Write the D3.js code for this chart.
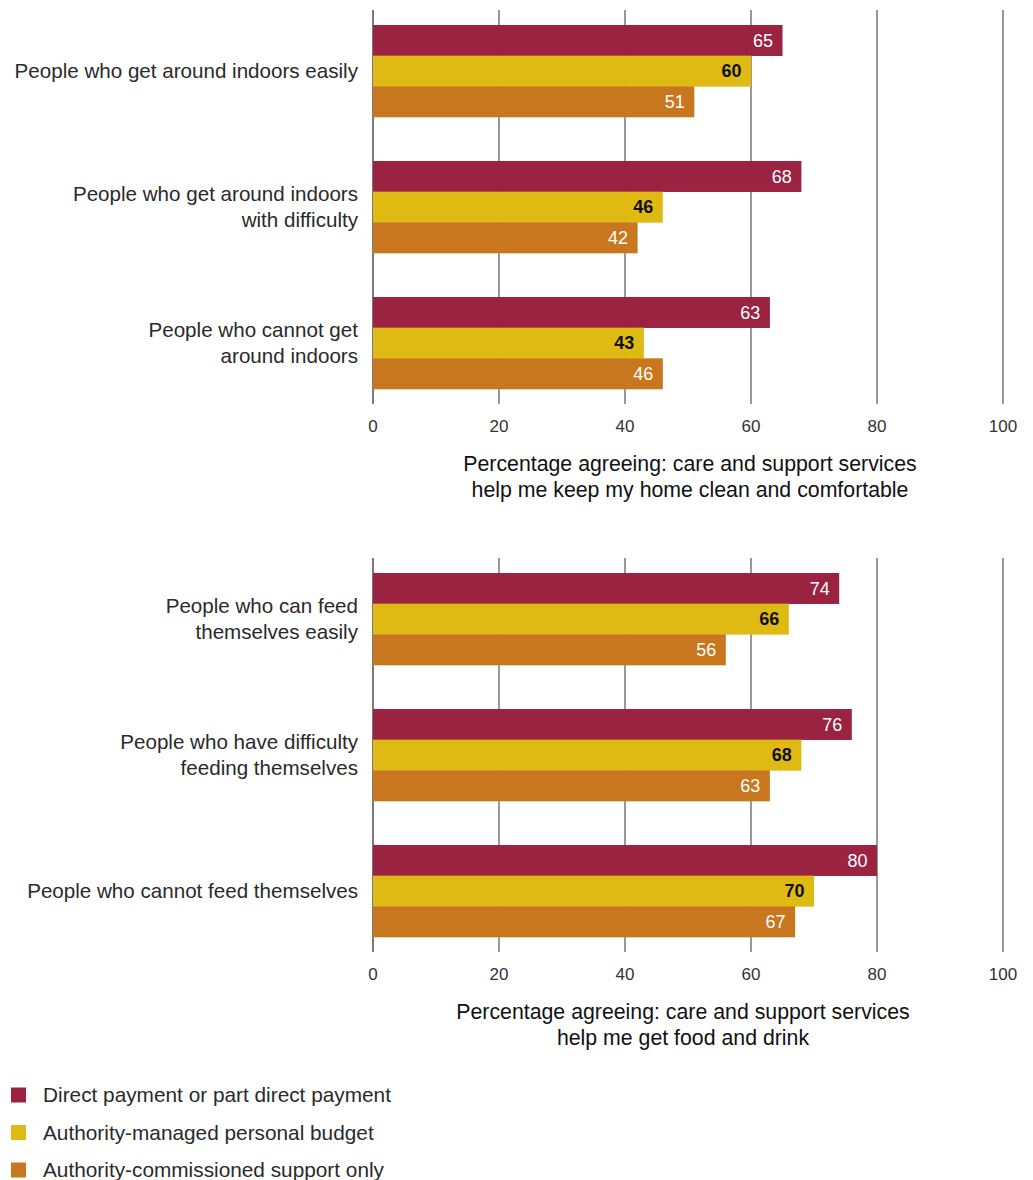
<!DOCTYPE html>
<html>
<head>
<meta charset="utf-8">
<script src="https://cdn.jsdelivr.net/npm/d3@7"></script>
<style>
  html, body { margin: 0; padding: 0; background: #fff; }
  svg { display: block; font-family: "Liberation Sans", Arial, Helvetica, sans-serif; }
</style>
</head>
<body>
<svg id="chart" width="1033" height="1180"></svg>
<script>
// Series shown in both panels, in bar order within each group
const seriesNames = [
  "Direct payment or part direct payment",
  "Authority-managed personal budget",
  "Authority-commissioned support only"
];

// Panel 1: getting around indoors
const mobilityCategories = [
  ["People who get around indoors easily"],
  ["People who get around indoors", "with difficulty"],
  ["People who cannot get", "around indoors"]
];
const mobilityDirect = [65, 68, 63];
const mobilityManaged = [60, 46, 43];
const mobilityCommissioned = [51, 42, 46];
const mobilityTitle = [
  "Percentage agreeing: care and support services",
  "help me keep my home clean and comfortable"
];

// Panel 2: feeding
const feedingCategories = [
  ["People who can feed", "themselves easily"],
  ["People who have difficulty", "feeding themselves"],
  ["People who cannot feed themselves"]
];
const feedingDirect = [74, 76, 80];
const feedingManaged = [66, 68, 70];
const feedingCommissioned = [56, 63, 67];
const feedingTitle = [
  "Percentage agreeing: care and support services",
  "help me get food and drink"
];

const xTicks = [0, 20, 40, 60, 80, 100];

const seriesColors = ["#9b2240", "#dfba13", "#c8771e"];
const labelColors = ["#ffffff", "#111111", "#ffffff"];
const labelWeights = ["normal", "bold", "normal"];

const svg = d3.select("#chart");

const x = d3.scaleLinear().domain([0, 100]).range([373, 1003]);

function drawPanel(offsetY, categories, seriesValues, title, titleX) {
  const g = svg.append("g").attr("transform", `translate(0,${offsetY})`);

  const y = d3.scaleBand()
    .domain(d3.range(categories.length))
    .range([3, 411])
    .paddingInner(44 / 136)
    .paddingOuter(22 / 136);

  const yInner = d3.scaleBand()
    .domain(d3.range(seriesValues.length))
    .range([0, y.bandwidth()]);

  // vertical gridlines
  g.append("g").selectAll("line")
    .data(xTicks)
    .join("line")
    .attr("x1", d => x(d)).attr("x2", d => x(d))
    .attr("y1", 10).attr("y2", 404)
    .attr("stroke", d => d === 0 ? "#222" : "#555")
    .attr("stroke-width", 1.2);

  // bars
  const groups = g.append("g").selectAll("g")
    .data(categories.map((c, i) => i))
    .join("g")
    .attr("transform", i => `translate(0,${y(i)})`);

  groups.selectAll("rect")
    .data(i => seriesValues.map((vals, s) => ({ s, v: vals[i] })))
    .join("rect")
    .attr("x", x(0))
    .attr("y", d => yInner(d.s))
    .attr("width", d => x(d.v) - x(0))
    .attr("height", yInner.bandwidth() + 0.3)
    .attr("fill", d => seriesColors[d.s]);

  groups.selectAll("text.val")
    .data(i => seriesValues.map((vals, s) => ({ s, v: vals[i] })))
    .join("text")
    .attr("class", "val")
    .attr("x", d => x(d.v) - 9.5)
    .attr("y", d => yInner(d.s) + yInner.bandwidth() / 2)
    .attr("dy", "0.36em")
    .attr("text-anchor", "end")
    .attr("font-size", 18)
    .attr("font-weight", d => labelWeights[d.s])
    .attr("fill", d => labelColors[d.s])
    .text(d => d.v);

  // category labels
  const lineH = 26.5;
  g.append("g").selectAll("text")
    .data(categories)
    .join("text")
    .attr("text-anchor", "end")
    .attr("font-size", 20.6)
    .attr("fill", "#2a2a2a")
    .each(function (lines, i) {
      const cy = y(i) + y.bandwidth() / 2;
      const start = cy - (lines.length - 1) * lineH / 2;
      d3.select(this).selectAll("tspan")
        .data(lines)
        .join("tspan")
        .attr("x", 358)
        .attr("y", (d, k) => start + k * lineH)
        .attr("dy", "0.35em")
        .text(d => d);
    });

  // x axis tick labels
  g.append("g").selectAll("text")
    .data(xTicks)
    .join("text")
    .attr("x", d => x(d))
    .attr("y", 426)
    .attr("dy", "0.35em")
    .attr("text-anchor", "middle")
    .attr("font-size", 17)
    .attr("fill", "#333")
    .text(d => d);

  // axis title
  g.append("g").selectAll("text")
    .data(title)
    .join("text")
    .attr("x", titleX)
    .attr("y", (d, k) => 464 + k * 25.5)
    .attr("dy", "0.35em")
    .attr("text-anchor", "middle")
    .attr("font-size", 21.3)
    .attr("fill", "#111")
    .text(d => d);
}

drawPanel(0, mobilityCategories,
  [mobilityDirect, mobilityManaged, mobilityCommissioned], mobilityTitle, 690);
drawPanel(548, feedingCategories,
  [feedingDirect, feedingManaged, feedingCommissioned], feedingTitle, 683);

// legend
const legend = svg.append("g").selectAll("g")
  .data(seriesNames)
  .join("g")
  .attr("transform", (d, i) => `translate(0,${1095 + i * 37.5})`);

legend.append("rect")
  .attr("x", 11).attr("y", -7.5)
  .attr("width", 15).attr("height", 15)
  .attr("fill", (d, i) => seriesColors[i]);

legend.append("text")
  .attr("x", 43)
  .attr("dy", "0.35em")
  .attr("font-size", 20.8)
  .attr("fill", "#2a2a2a")
  .text(d => d);
</script>
</body>
</html>
